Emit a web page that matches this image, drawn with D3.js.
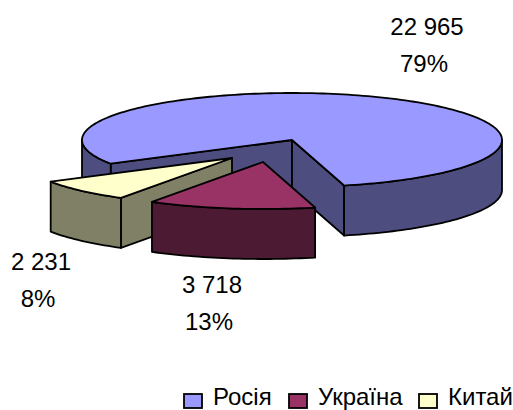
<!DOCTYPE html>
<html>
<head>
	<meta charset="utf-8">
	<title> pie chart </title>
	<script src="https://d3js.org/d3.v7.min.js"></script>
	<style>
		html, body { margin: 0; padding: 0; background: #fff; }
		svg { display: block; }
		text { font-family: "Liberation Sans", Arial, sans-serif; font-size: 24px; fill: #000; }
	</style>
</head>
<body>
	<svg width="513" height="410"></svg>
	<script type="text/javascript">
		let categories = ["Росія", "Україна", "Китай"];
		let values = [22965, 3718, 2231];
		let topColors = ["#9999FF", "#993366", "#FFFFCC"];
		let sideColors = ["#4D4D80", "#4D1A33", "#808066"];

		let svg = d3.select("svg");
		let cx = 292, cy = 140, rx = 210, ry = 47, depth = 50;
		// how far each slice is pulled out of the pie
		let offsetX = [0, -29, -60];
		let offsetY = [0, 22, 18];
		let labelX = [427, 212, 41];
		let labelY = [35, 293, 270];
		let legendX = [184, 289, 419];

		let fmt = d3.formatLocale({ thousands: " ", grouping: [3], decimal: ",", currency: ["", ""] }).format(",d");
		let total = d3.sum(values);

		let pie = d3.pie().sort(null)
			.startAngle(239.7 * Math.PI / 180)
			.endAngle((239.7 + 360) * Math.PI / 180);
		let slices = pie(values);

		let line = d3.line().x(d => d[0]).y(d => d[1]);

		function rim(i, a, dy)
		{
			return [cx + offsetX[i] + rx * Math.sin(a), cy + offsetY[i] + ry * -Math.cos(a) + dy];
		}
		function apex(i, dy)
		{
			return [cx + offsetX[i], cy + offsetY[i] + dy];
		}
		function rim_points(i, a0, a1, dy)
		{
			let n = Math.max(2, Math.ceil(Math.abs(a1 - a0) * 40));
			return d3.range(n + 1).map(k => rim(i, a0 + (a1 - a0) * k / n, dy));
		}
		function draw_poly(points, fill)
		{
			svg.append("path")
				.attr("d", line(points) + "Z")
				.attr("fill", fill)
				.attr("stroke", "#000")
				.attr("stroke-width", 1.8)
				.attr("stroke-linejoin", "round");
		}
		// outer wall: only the part of the rim facing the viewer (90deg to 270deg)
		function draw_outer(i, s)
		{
			let spans = [[Math.PI / 2, 3 * Math.PI / 2], [2.5 * Math.PI, 3.5 * Math.PI]];
			spans.forEach(function(sp) {
				let a0 = Math.max(s.startAngle, sp[0]);
				let a1 = Math.min(s.endAngle, sp[1]);
				if(a1 <= a0) { return; }
				draw_poly(rim_points(i, a0, a1, 0).concat(rim_points(i, a1, a0, depth)), sideColors[i]);
			});
		}
		function draw_cut(i, a)
		{
			draw_poly([apex(i, 0), rim(i, a, 0), rim(i, a, depth), apex(i, depth)], sideColors[i]);
		}
		function draw_top(i, s)
		{
			draw_poly([apex(i, 0)].concat(rim_points(i, s.startAngle, s.endAngle, 0)), topColors[i]);
		}

		// back to front: Russia, China, Ukraine
		draw_cut(0, slices[0].startAngle);
		draw_cut(0, slices[0].endAngle);
		draw_outer(0, slices[0]);
		draw_top(0, slices[0]);

		draw_cut(2, slices[2].startAngle);
		draw_outer(2, slices[2]);
		draw_top(2, slices[2]);

		draw_outer(1, slices[1]);
		draw_top(1, slices[1]);

		// data labels
		values.forEach(function(v, i) {
			svg.append("text").attr("x", labelX[i]).attr("y", labelY[i])
				.attr("text-anchor", "middle").text(fmt(v));
			svg.append("text").attr("x", labelX[i] - 3).attr("y", labelY[i] + 37)
				.attr("text-anchor", "middle").text(Math.round(100 * v / total) + "%");
		});

		// legend
		categories.forEach(function(c, i) {
			svg.append("rect").attr("x", legendX[i]).attr("y", 394).attr("width", 18).attr("height", 14)
				.attr("fill", topColors[i]).attr("stroke", "#000").attr("stroke-width", 1.8);
			svg.append("text").attr("x", legendX[i] + 29).attr("y", 404.5).text(c);
		});
	</script>
</body>
</html>
